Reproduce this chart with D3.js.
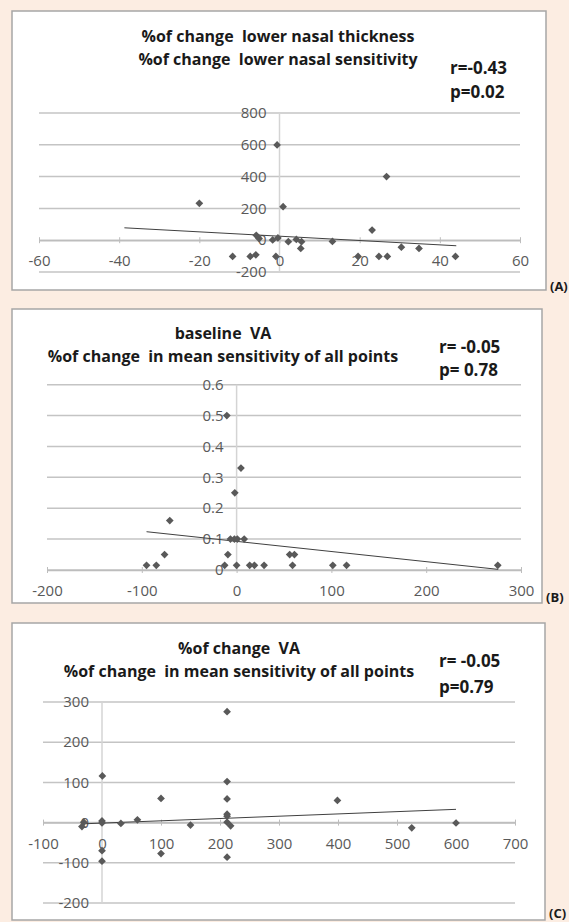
<!DOCTYPE html>
<html>
<head>
<meta charset="utf-8">
<script src="https://cdn.jsdelivr.net/npm/d3@7"></script>
<style>
  html, body { margin: 0; padding: 0; background: #fcede2; overflow: hidden; }
  svg { display: block; }
  text { font-family: "Open Sans", "Noto Sans", sans-serif; white-space: pre; }
</style>
</head>
<body>
<div id="chart"></div>
<script>
// panel A: % change lower nasal thickness vs sensitivity
const aX = [-20, -0.6, 0.9, 26.7, 23.1, -5.8, -5.1, -1.7, -0.4, 2.2, 4.2, 5.5, 5.3, 13.2, 30.4, 34.8, 24.8, 26.9, 19.6, 43.9, -11.7, -7.3, -5.9, -0.9];
const aY = [232, 599, 211, 400, 64, 31, 10, 2, 14, -9, 5, -9, -52, -8, -44, -52, -102, -102, -102, -102, -102, -102, -92, -102];
const aTrend = [[-38.7, 78], [44.1, -35]];
const aTitle = ['%of change  lower nasal thickness', '%of change  lower nasal sensitivity'];
const aStats = ['r=-0.43', 'p=0.02'];

// panel B: baseline VA
const bX = [-10.3, 4.6, -1.9, -70.5, -76, -95, -84.7, -9.2, -12.6, -6.5, -2.3, 0.8, 8, 0, 13.8, 18.8, 29, 56, 61, 59, 101.5, 116, 275.5];
const bY = [0.5, 0.33, 0.25, 0.16, 0.05, 0.015, 0.015, 0.05, 0.015, 0.1, 0.1, 0.1, 0.1, 0.015, 0.015, 0.015, 0.015, 0.05, 0.05, 0.015, 0.015, 0.015, 0.015];
const bTrend = [[-95, 0.124], [276, 0.002]];
const bTitle = ['baseline  VA', '%of change  in mean sensitivity of all points'];
const bStats = ['r= -0.05', 'p= 0.78'];

// panel C: % change VA
const cX = [212, 0.6, 212, 100, 212, 399, 212, 212, 212, 218, -31, -34, 0, 0, 32, 60, 150, 525, 600, 0, 0, 100, 212];
const cY = [276, 116, 102, 60, 59, 55, 21, 16, 1, -8, 1, -10, 4, -1, -2, 7, -6, -13, -1, -70, -96, -77, -86];
const cTrend = [[-31, -3], [600, 33]];
const cTitle = ['%of change  VA', '%of change  in mean sensitivity of all points'];
const cStats = ['r= -0.05', 'p=0.79'];

const xTicksA = [-60, -40, -20, 0, 20, 40, 60];
const yTicksA = [-200, 0, 200, 400, 600, 800];
const xTicksB = [-200, -100, 0, 100, 200, 300];
const yTicksB = [0, 0.1, 0.2, 0.3, 0.4, 0.5, 0.6];
const xTicksC = [-100, 0, 100, 200, 300, 400, 500, 600, 700];
const yTicksC = [-200, -100, 0, 100, 200, 300];

const W = 569, H = 922;
const svg = d3.select('#chart').append('svg')
    .attr('width', W)
    .attr('height', H);

function drawPanel(p)
{
    const g = svg.append('g');

    // white frame
    g.append('rect')
        .attr('x', p.box[0]).attr('y', p.box[1])
        .attr('width', p.box[2]).attr('height', p.box[3])
        .attr('fill', '#ffffff')
        .attr('stroke', '#a6a6a6')
        .attr('stroke-width', 1.5);

    const x = d3.scaleLinear().domain(d3.extent(p.xTicks)).range(p.xRange);
    const y = d3.scaleLinear().domain(d3.extent(p.yTicks)).range(p.yRange);

    // horizontal gridlines
    g.append('g').selectAll('line')
        .data(p.yTicks)
        .enter()
        .append('line')
        .attr('x1', p.xRange[0]).attr('x2', p.xRange[1])
        .attr('y1', d => y(d)).attr('y2', d => y(d))
        .attr('stroke', '#c4c4c4')
        .attr('stroke-width', 1.5);

    // vertical axis at x = 0
    g.append('line')
        .attr('x1', x(0)).attr('x2', x(0))
        .attr('y1', p.yRange[0]).attr('y2', p.yRange[1])
        .attr('stroke', '#d4d4d4')
        .attr('stroke-width', 1.5);

    // horizontal axis at y = 0 with tick marks
    const xAxis = d3.axisBottom(x)
        .tickValues(p.xTicks)
        .tickSize(4)
        .tickSizeOuter(0)
        .tickFormat(intFmt);
    const ax = g.append('g')
        .attr('transform', `translate(0,${y(0)})`)
        .call(xAxis);
    ax.select('.domain').attr('stroke', '#bdbdbd').attr('stroke-width', 1.5);
    ax.selectAll('.tick line').attr('stroke', '#bdbdbd').attr('y1', -3).attr('y2', 3);
    ax.selectAll('.tick text')
        .attr('y', 21).attr('dy', '0.35em')
        .attr('fill', '#595959')
        .style('font-size', '15px')
        .style('font-family', '"Open Sans", sans-serif');

    // y labels next to the vertical axis
    g.append('g').selectAll('text')
        .data(p.yTicks)
        .enter()
        .append('text')
        .attr('x', x(0) - 13)
        .attr('y', d => y(d))
        .attr('dy', '0.35em')
        .attr('text-anchor', 'end')
        .attr('fill', '#595959')
        .style('font-size', '15px')
        .text(p.yFormat);

    // trend line
    g.append('path')
        .datum(p.trend)
        .attr('d', d3.line().x(d => x(d[0])).y(d => y(d[1])))
        .attr('fill', 'none')
        .attr('stroke', '#404040')
        .attr('stroke-width', 1);

    // diamond markers
    const pts = p.xs.map((v, i) => [v, p.ys[i]]);
    g.append('g').selectAll('path')
        .data(pts)
        .enter()
        .append('path')
        .attr('d', d3.symbol().type(d3.symbolSquare).size(30))
        .attr('transform', d => `translate(${x(d[0])},${y(d[1])}) rotate(45)`)
        .attr('fill', '#595959');

    // title, two lines
    g.append('g').selectAll('text')
        .data(p.title)
        .enter()
        .append('text')
        .attr('x', p.titleX)
        .attr('y', (d, i) => p.titleY + i * 23)
        .attr('dy', '0.35em')
        .attr('text-anchor', 'middle')
        .attr('fill', '#1a1a1a')
        .style('font-size', '16px')
        .style('font-weight', 'bold')
        .text(d => d);

    // r and p
    g.append('g').selectAll('text')
        .data(p.stats)
        .enter()
        .append('text')
        .attr('x', p.statX)
        .attr('y', (d, i) => p.statY + i * p.statGap)
        .attr('dy', '0.35em')
        .attr('fill', '#1a1a1a')
        .style('font-size', '17px')
        .style('font-weight', 'bold')
        .text(d => d);

    // panel letter
    g.append('text')
        .attr('x', p.tag[0]).attr('y', p.tag[1])
        .attr('dy', '0.35em')
        .attr('fill', '#1a1a1a')
        .style('font-size', '13px')
        .style('font-weight', 'bold')
        .text(p.tagText);
}

function intFmt(d) { return d3.format('d')(d).replace('\u2212', '-'); }

drawPanel({
    box: [12, 11, 534, 279],
    xs: aX, ys: aY, trend: aTrend,
    xTicks: xTicksA, yTicks: yTicksA,
    xRange: [39, 520], yRange: [272, 113],
    yFormat: intFmt,
    title: aTitle, titleX: 278, titleY: 36,
    stats: aStats, statX: 450, statY: 68, statGap: 24,
    tag: [550, 286], tagText: '(A)'
});

drawPanel({
    box: [12, 309, 530, 294],
    xs: bX, ys: bY, trend: bTrend,
    xTicks: xTicksB, yTicks: yTicksB,
    xRange: [47, 521], yRange: [570, 384.7],
    yFormat: d => d === 0 ? '0' : d3.format('.1f')(d),
    title: bTitle, titleX: 223, titleY: 333,
    stats: bStats, statX: 439, statY: 347, statGap: 23,
    tag: [546, 597], tagText: '(B)'
});

drawPanel({
    box: [12, 623, 533, 297],
    xs: cX, ys: cY, trend: cTrend,
    xTicks: xTicksC, yTicks: yTicksC,
    xRange: [43, 515], yRange: [903, 702],
    yFormat: intFmt,
    title: cTitle, titleX: 239, titleY: 648,
    stats: cStats, statX: 439, statY: 661, statGap: 26,
    tag: [549, 913], tagText: '(C)'
});
</script>
</body>
</html>
